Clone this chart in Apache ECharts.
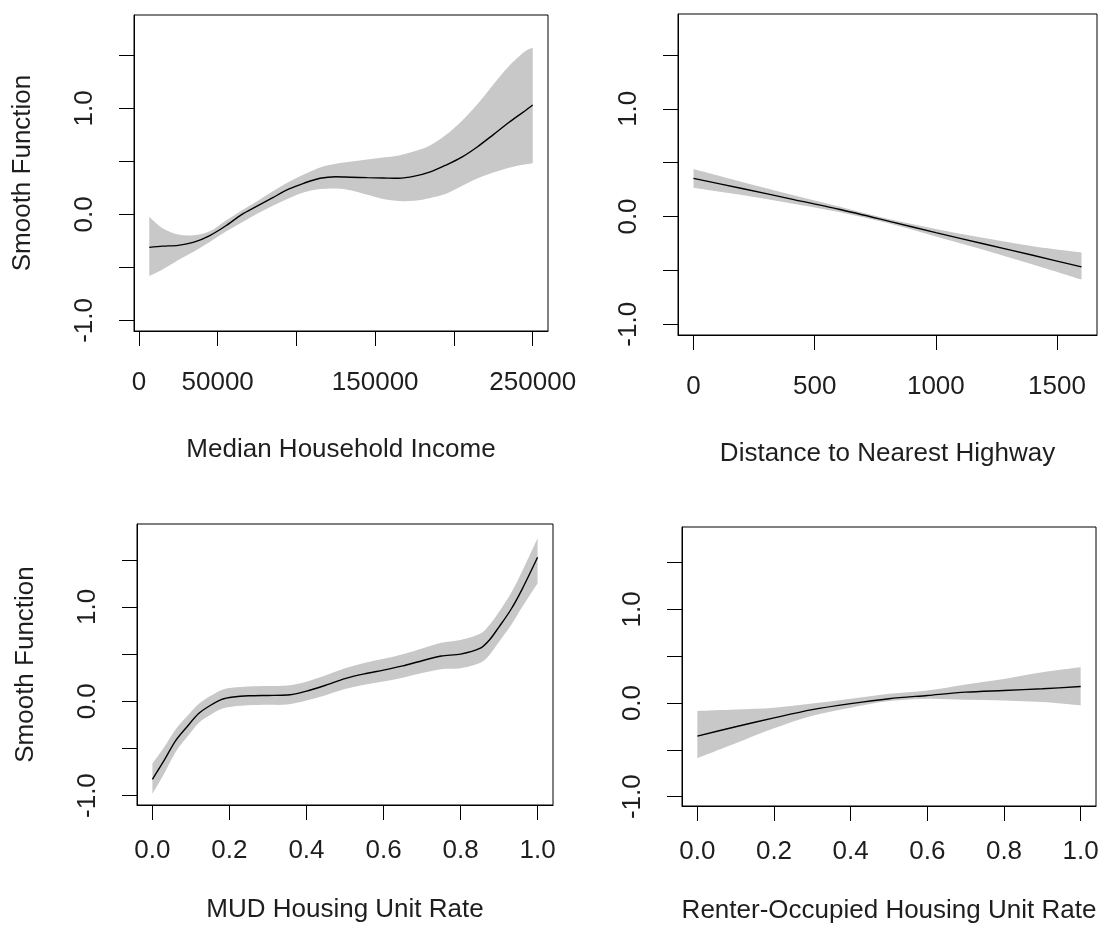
<!DOCTYPE html>
<html>
<head>
<meta charset="utf-8">
<script src="https://cdn.jsdelivr.net/npm/echarts@6/dist/echarts.min.js"></script>
<style>
  html, body { margin: 0; padding: 0; background: #ffffff; }
  #chart { width: 1110px; height: 930px; }
</style>
</head>
<body>
<div id="chart"></div>
<script>
// ---- Smooth term: Median Household Income ----
const incomeX     = [6600, 15000, 25000, 35000, 45000, 55000, 65000, 75000, 85000, 95000, 105000, 115000, 125000, 135000, 145000, 155000, 165000, 175000, 185000, 195000, 205000, 215000, 225000, 235000, 245000, 250000];
const incomeFit   = [-0.311, -0.300, -0.292, -0.262, -0.200, -0.110, -0.005, 0.077, 0.158, 0.237, 0.295, 0.340, 0.355, 0.350, 0.346, 0.343, 0.340, 0.360, 0.400, 0.465, 0.540, 0.638, 0.752, 0.869, 0.975, 1.031];
const incomeUpper = [-0.022, -0.130, -0.190, -0.197, -0.160, -0.060, 0.035, 0.124, 0.218, 0.305, 0.378, 0.442, 0.477, 0.498, 0.517, 0.535, 0.556, 0.594, 0.652, 0.750, 0.880, 1.040, 1.225, 1.400, 1.535, 1.572];
const incomeLower = [-0.582, -0.520, -0.430, -0.350, -0.260, -0.165, -0.080, 0.005, 0.082, 0.150, 0.208, 0.238, 0.243, 0.226, 0.185, 0.145, 0.125, 0.128, 0.155, 0.195, 0.268, 0.340, 0.395, 0.440, 0.470, 0.481];

// ---- Smooth term: Distance to Nearest Highway ----
const distX     = [0, 200, 400, 600, 800, 1000, 1200, 1400, 1601];
const distFit   = [0.354, 0.260, 0.164, 0.067, -0.040, -0.150, -0.255, -0.360, -0.468];
const distUpper = [0.440, 0.320, 0.204, 0.092, -0.020, -0.115, -0.200, -0.275, -0.333];
const distLower = [0.268, 0.200, 0.124, 0.042, -0.060, -0.185, -0.310, -0.445, -0.585];

// ---- Smooth term: MUD Housing Unit Rate ----
const mudX     = [0, 0.03, 0.06, 0.09, 0.12, 0.15, 0.18, 0.21, 0.25, 0.30, 0.35, 0.40, 0.45, 0.50, 0.55, 0.60, 0.65, 0.70, 0.75, 0.80, 0.85, 0.875, 0.90, 0.93, 0.96, 1.00];
const mudFit   = [-0.827, -0.630, -0.420, -0.270, -0.130, -0.045, 0.020, 0.045, 0.058, 0.062, 0.066, 0.108, 0.170, 0.240, 0.290, 0.330, 0.375, 0.430, 0.480, 0.500, 0.560, 0.650, 0.790, 0.968, 1.190, 1.527];
const mudUpper = [-0.660, -0.490, -0.300, -0.160, -0.030, 0.055, 0.120, 0.145, 0.158, 0.162, 0.166, 0.208, 0.275, 0.350, 0.405, 0.450, 0.500, 0.560, 0.620, 0.650, 0.715, 0.810, 0.950, 1.140, 1.380, 1.730];
const mudLower = [-0.980, -0.770, -0.540, -0.380, -0.230, -0.145, -0.080, -0.055, -0.042, -0.038, -0.034, 0.008, 0.065, 0.130, 0.175, 0.210, 0.250, 0.300, 0.340, 0.350, 0.405, 0.490, 0.630, 0.800, 1.000, 1.250];

// ---- Smooth term: Renter-Occupied Housing Unit Rate ----
const renterX     = [0, 0.1, 0.2, 0.3, 0.4, 0.5, 0.6, 0.7, 0.8, 0.9, 1.0];
const renterFit   = [-0.353, -0.254, -0.159, -0.071, -0.007, 0.046, 0.081, 0.116, 0.134, 0.152, 0.176];
const renterUpper = [-0.085, -0.070, -0.050, -0.006, 0.046, 0.099, 0.134, 0.198, 0.257, 0.328, 0.381];
const renterLower = [-0.589, -0.430, -0.270, -0.136, -0.050, 0.021, 0.046, 0.035, 0.028, 0.011, -0.025];

// ---- Axis ticks and labels ----
const incomeTicks      = [0, 50000, 100000, 150000, 200000, 250000];
const incomeTickLabels = [0, 50000, 150000, 250000];
const distTicks        = [0, 500, 1000, 1500];
const rateTicks        = [0, 0.2, 0.4, 0.6, 0.8, 1.0];
const yTicks           = [-1, -0.5, 0, 0.5, 1, 1.5];
const yTickLabels      = [-1, 0, 1];

const xTitles = ['Median Household Income', 'Distance to Nearest Highway', 'MUD Housing Unit Rate', 'Renter-Occupied Housing Unit Rate'];
const yTitle  = 'Smooth Function';

const FONT = '"Liberation Sans", Arial, Helvetica, sans-serif';
const TEXT = '#1e1e1e';
const BAND = '#c8c8c8';

// plot regions and axis ranges (R-style 4% padding)
const panels = [
  { grid: { left: 134, top: 15,  width: 414, height: 316 }, x: incomeX, fit: incomeFit, lo: incomeLower, hi: incomeUpper,
    xMin: -3100, xMax: 259700, ticks: incomeTicks, labels: incomeTickLabels, fmt: v => String(Math.round(v)),
    labelMargin: 39, nameGap: 106, yName: true },
  { grid: { left: 678, top: 14,  width: 419, height: 321 }, x: distX, fit: distFit, lo: distLower, hi: distUpper,
    xMin: -64, xMax: 1665, ticks: distTicks, labels: distTicks, fmt: v => String(Math.round(v)),
    labelMargin: 39, nameGap: 106, yName: false },
  { grid: { left: 137, top: 524, width: 416, height: 281 }, x: mudX, fit: mudFit, lo: mudLower, hi: mudUpper,
    xMin: -0.04, xMax: 1.04, ticks: rateTicks, labels: rateTicks, fmt: v => v.toFixed(1),
    labelMargin: 33, nameGap: 92, yName: true },
  { grid: { left: 682, top: 527, width: 414, height: 279 }, x: renterX, fit: renterFit, lo: renterLower, hi: renterUpper,
    xMin: -0.04, xMax: 1.04, ticks: rateTicks, labels: rateTicks, fmt: v => v.toFixed(1),
    labelMargin: 33, nameGap: 92, yName: false }
];

// Catmull-Rom curve through pixel points, as SVG path commands
function curvePath(pts, start) {
  let d = (start ? 'M' : 'L') + pts[0][0] + ',' + pts[0][1];
  for (let k = 0; k < pts.length - 1; k++) {
    const p0 = pts[Math.max(k - 1, 0)], p1 = pts[k], p2 = pts[k + 1], p3 = pts[Math.min(k + 2, pts.length - 1)];
    const c1x = p1[0] + (p2[0] - p0[0]) / 6, c1y = p1[1] + (p2[1] - p0[1]) / 6;
    const c2x = p2[0] - (p3[0] - p1[0]) / 6, c2y = p2[1] - (p3[1] - p1[1]) / 6;
    d += 'C' + c1x + ',' + c1y + ',' + c2x + ',' + c2y + ',' + p2[0] + ',' + p2[1];
  }
  return d;
}

const grids = [], xAxes = [], yAxes = [], series = [];

panels.forEach((p, i) => {
  grids.push(Object.assign({ show: true, borderColor: '#000', borderWidth: 1, backgroundColor: 'transparent' }, p.grid));

  xAxes.push({
    type: 'value', gridIndex: i, min: p.xMin, max: p.xMax, position: 'bottom', z: 10,
    name: xTitles[i], nameLocation: 'middle', nameGap: p.nameGap,
    nameTextStyle: { fontFamily: FONT, fontSize: 26, color: TEXT },
    axisLine: { show: true, onZero: false, lineStyle: { color: '#000', width: 1 } },
    splitLine: { show: false },
    axisTick: { show: true, inside: false, length: 15, customValues: p.ticks, lineStyle: { color: '#000', width: 1 } },
    axisLabel: { show: true, customValues: p.labels, formatter: p.fmt, margin: p.labelMargin,
      fontFamily: FONT, fontSize: 26, color: TEXT, hideOverlap: false, showMinLabel: true, showMaxLabel: true }
  });

  yAxes.push({
    type: 'value', gridIndex: i, min: -1.1, max: 1.88, position: 'left', z: 10,
    name: p.yName ? yTitle : '', nameLocation: 'middle', nameGap: 98,
    nameTextStyle: { fontFamily: FONT, fontSize: 26, color: TEXT },
    axisLine: { show: true, onZero: false, lineStyle: { color: '#000', width: 1 } },
    splitLine: { show: false },
    axisTick: { show: true, inside: false, length: 15, customValues: yTicks, lineStyle: { color: '#000', width: 1 } },
    axisLabel: { show: true, customValues: yTickLabels, formatter: v => v.toFixed(1), rotate: 90, margin: 36,
      fontFamily: FONT, fontSize: 26, color: TEXT, hideOverlap: false }
  });

  // confidence band: one filled region between the upper and lower limits
  series.push({
    type: 'custom', coordinateSystem: 'cartesian2d', xAxisIndex: i, yAxisIndex: i,
    data: [[p.x[0], p.lo[0]]], silent: true, z: 2,
    renderItem: (params, api) => {
      const up = p.x.map((x, k) => api.coord([x, p.hi[k]]));
      const lo = p.x.map((x, k) => api.coord([x, p.lo[k]])).reverse();
      return {
        type: 'path',
        shape: { pathData: curvePath(up, true) + curvePath(lo, false) + 'Z' },
        style: { fill: BAND, stroke: null }
      };
    }
  });
  // fitted smooth function
  series.push({
    type: 'line', xAxisIndex: i, yAxisIndex: i, data: p.x.map((x, k) => [x, p.fit[k]]), smooth: 0.3,
    symbol: 'none', lineStyle: { color: '#000', width: 1.4 }, silent: true, z: 4
  });
});

const chart = echarts.init(document.getElementById('chart'), null, { renderer: 'canvas' });
chart.setOption({
  animation: false,
  backgroundColor: '#ffffff',
  grid: grids,
  xAxis: xAxes,
  yAxis: yAxes,
  series: series
});
</script>
</body>
</html>
